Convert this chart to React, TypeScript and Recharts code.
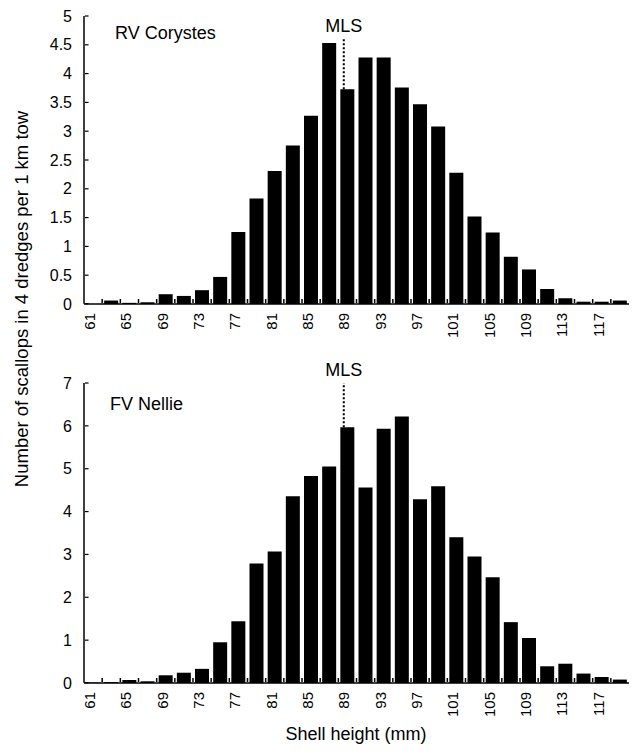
import { Bar, BarChart, ReferenceLine, XAxis, YAxis } from "recharts";

// shell height classes (mm), 2 mm bins
const bins = ["61", "63", "65", "67", "69", "71", "73", "75", "77", "79", "81", "83", "85", "87", "89",
  "91", "93", "95", "97", "99", "101", "103", "105", "107", "109", "111", "113", "115", "117", "119"];

// RV Corystes
const corystes = [0, 0.06, 0.02, 0.03, 0.17, 0.14, 0.24, 0.47, 1.25, 1.83, 2.31, 2.75, 3.27, 4.53, 3.73,
  4.28, 4.28, 3.76, 3.47, 3.08, 2.28, 1.52, 1.24, 0.82, 0.6, 0.26, 0.1, 0.04, 0.04, 0.06];

// FV Nellie
const nellie = [0.01, 0.02, 0.07, 0.04, 0.18, 0.24, 0.33, 0.95, 1.44, 2.79, 3.07, 4.36, 4.83, 5.05, 5.97,
  4.56, 5.93, 6.22, 4.29, 4.59, 3.4, 2.95, 2.47, 1.42, 1.05, 0.39, 0.45, 0.22, 0.14, 0.08];

const corystesTicks = [0, 0.5, 1, 1.5, 2, 2.5, 3, 3.5, 4, 4.5, 5];
const nellieTicks = [0, 1, 2, 3, 4, 5, 6, 7];
const binEdges = [62, 64, 66, 68, 70, 72, 74, 76, 78, 80, 82, 84, 86, 88, 90,
  92, 94, 96, 98, 100, 102, 104, 106, 108, 110, 112, 114, 116, 118];
const MLS = 88.6;

const FONT = "'Liberation Sans', Arial, Helvetica, sans-serif";

function HeightTick(props: any) {
  const { x, y, payload } = props;
  const cx = x - 3.5;
  return (
    <text x={cx} y={y} transform={`rotate(-90 ${cx} ${y})`} textAnchor="end" dominantBaseline="central"
      fontSize={15} fill="#000" fontFamily={FONT}>
      {payload.value}
    </text>
  );
}

interface PanelProps {
  values: number[];
  ticks: number[];
  max: number;
  mlsFrom: number;
  mlsTo: number;
  height: number;
  top: number;
  bottom: number;
}

function Panel({ values, ticks, max, mlsFrom, mlsTo, height, top, bottom }: PanelProps) {
  const data = bins.map((b, i) => ({ bin: b, mm: Number(b), n: values[i] }));
  const plotH = height - top - bottom;
  const px = max / plotH; // one pixel in value units
  return (
    <BarChart width={632} height={height} data={data} margin={{ top, right: 3, bottom, left: 0 }} barCategoryGap={2}>
      <XAxis dataKey="bin" height={1} interval={1} tickLine={false} tickSize={0} tickMargin={9}
        stroke="#000" strokeWidth={1.5} tick={<HeightTick />} />
      <XAxis xAxisId="mm" dataKey="mm" type="number" domain={[60, 120]} hide allowDataOverflow />
      <YAxis width={84} domain={[0, max]} ticks={ticks} interval={0} axisLine={false} tickLine={false}
        tickSize={0} tickMargin={12} tick={{ fontSize: 16, fill: "#000", fontFamily: FONT }} />
      <Bar dataKey="n" fill="#000" isAnimationActive={false} />
      {/* y axis line, at the start of the first band */}
      <ReferenceLine ifOverflow="visible" position="start"
        segment={[{ x: bins[0], y: px * 0.3 }, { x: bins[0], y: max }]} stroke="#000" strokeWidth={1.5} />
      {/* inward y ticks */}
      {ticks.map((t) => (
        <ReferenceLine key={"y" + t} xAxisId="mm" ifOverflow="visible"
          segment={[{ x: 60.1, y: t || px * 0.3 }, { x: 60.5, y: t || px * 0.3 }]} stroke="#000" strokeWidth={1.2} />
      ))}
      {/* bin boundary ticks on the x axis */}
      {binEdges.map((e) => (
        <ReferenceLine key={"x" + e} xAxisId="mm" ifOverflow="visible"
          segment={[{ x: e, y: px }, { x: e, y: px * 5 }]} stroke="#000" strokeWidth={1.5} />
      ))}
      <ReferenceLine xAxisId="mm" segment={[{ x: MLS, y: mlsFrom }, { x: MLS, y: mlsTo }]}
        stroke="#000" strokeWidth={2} strokeDasharray="2 2"
        label={{ value: "MLS", position: "top", offset: 7, fontSize: 18, fill: "#000", fontFamily: FONT }} />
    </BarChart>
  );
}

export default function App() {
  return (
    <div style={{ position: "relative", width: 632, height: 754, background: "#fff", fontFamily: FONT }}>
      <style>{`body{margin:0}`}</style>
      <div style={{ position: "absolute", left: 0, top: 0 }}>
        <Panel values={corystes} ticks={corystesTicks} max={5} mlsFrom={3.73} mlsTo={4.6}
          height={345} top={16} bottom={40} />
      </div>
      <div style={{ position: "absolute", left: 0, top: 340 }}>
        <Panel values={nellie} ticks={nellieTicks} max={7} mlsFrom={5.97} mlsTo={7}
          height={385} top={43} bottom={41} />
      </div>
      <svg width={632} height={754} style={{ position: "absolute", left: 0, top: 0, pointerEvents: "none" }}>
        <text x={115} y={39} fontSize={18} fill="#000" fontFamily={FONT}>RV Corystes</text>
        <text x={110} y={410} fontSize={18} fill="#000" fontFamily={FONT}>FV Nellie</text>
        <text x={356} y={740} fontSize={18} textAnchor="middle" fill="#000" fontFamily={FONT}>Shell height (mm)</text>
        <text x={28} y={299} fontSize={18.5} textAnchor="middle" fill="#000" fontFamily={FONT}
          transform="rotate(-90 28 299)">Number of scallops in 4 dredges per 1 km tow</text>
      </svg>
    </div>
  );
}
